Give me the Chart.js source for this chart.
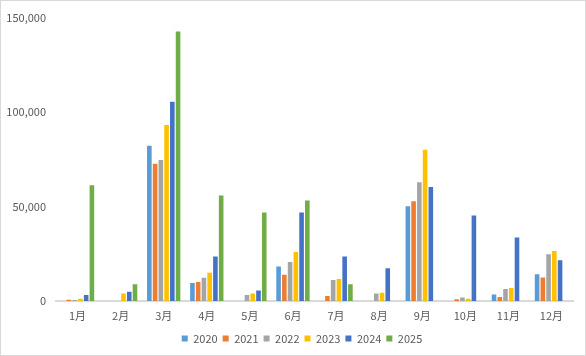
<!DOCTYPE html>
<html><head><meta charset="utf-8">
<script src="https://cdn.jsdelivr.net/npm/chart.js@4"></script>
<style>
html,body{margin:0;padding:0;background:#fff;}
#wrap{width:586px;height:356px;box-sizing:border-box;border:1px solid #d9d9d9;position:relative;}
</style></head>
<body><div id="wrap"><canvas id="c" width="584" height="354"></canvas></div>
<script>
const categories = ['1月','2月','3月','4月','5月','6月','7月','8月','9月','10月','11月','12月'];
const seriesNames = ['2020','2021','2022','2023','2024','2025'];
const s2020 = [0, 0, 82200, 9500, 0, 18300, 0, 0, 50200, 0, 3500, 14100];
const s2021 = [700, 0, 72700, 10000, 0, 13900, 2600, 0, 52800, 900, 2100, 12500];
const s2022 = [500, 0, 74600, 12300, 3200, 20600, 11100, 4000, 62800, 1800, 6300, 24700];
const s2023 = [1200, 4000, 93100, 15000, 4000, 25900, 11600, 4400, 80100, 1200, 6900, 26400];
const s2024 = [3200, 4900, 105400, 23600, 5600, 46800, 23600, 17300, 60400, 45200, 33600, 21600];
const s2025 = [61200, 8800, 142700, 55800, 46800, 53200, 8800, 0, 0, 0, 0, 0];
const yTicks = [0, 50000, 100000, 150000];

const colors = ['#5B9BD5','#ED7D31','#A5A5A5','#FFC000','#4472C4','#70AD47'];
const allSeries = [s2020, s2021, s2022, s2023, s2024, s2025];
const FONT = '"Noto Sans CJK SC", "Noto Sans", sans-serif';

const legendShift = {
  id: 'legendShift',
  afterLayout(chart) { if (chart.legend) chart.legend.left += 30; }
};

new Chart(document.getElementById('c'), {
  type: 'bar',
  data: {
    labels: categories,
    datasets: allSeries.map((d, i) => ({
      label: seriesNames[i],
      data: d,
      backgroundColor: colors[i],
      borderWidth: 0,
      categoryPercentage: 0.8,
      barPercentage: 0.8
    }))
  },
  plugins: [legendShift],
  options: {
    responsive: false,
    animation: false,
    layout: { padding: { left: 0, right: 12, top: 5, bottom: 1 } },
    plugins: {
      legend: {
        position: 'bottom',
        labels: {
          boxWidth: 6, boxHeight: 6, padding: 5,
          color: '#595959',
          font: { family: FONT, size: 11 }
        }
      },
      tooltip: { enabled: false }
    },
    scales: {
      x: {
        afterFit: (s) => { s.height = 27; },
        grid: { display: false, drawTicks: false },
        border: { display: true, color: '#d9d9d9', width: 2 },
        ticks: { color: '#595959', font: { family: FONT, size: 11 }, padding: 8 }
      },
      y: {
        min: 0, max: 150000,
        afterFit: (s) => { s.width = 55; },
        afterBuildTicks: (s) => { s.ticks = yTicks.map(v => ({ value: v })); },
        grid: { display: false, drawTicks: false },
        border: { display: false },
        ticks: {
          color: '#595959', font: { family: FONT, size: 11 }, padding: 10,
          callback: (v) => v.toLocaleString('en-US')
        }
      }
    }
  }
});
</script></body></html>
